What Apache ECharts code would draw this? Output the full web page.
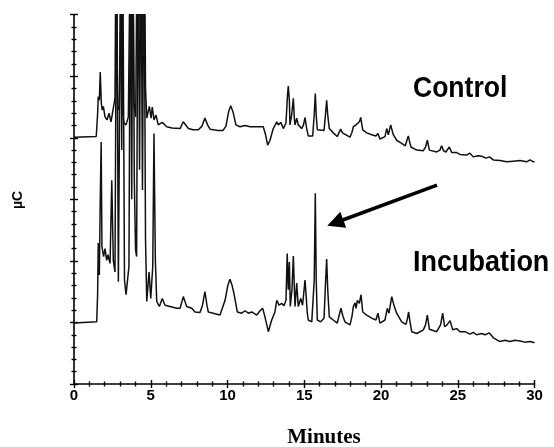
<!DOCTYPE html>
<html><head><meta charset="utf-8">
<script src="https://cdn.jsdelivr.net/npm/echarts@6/dist/echarts.min.js"></script>
<style>html,body{margin:0;padding:0;background:#fff}#c{width:554px;height:447px}</style>
</head><body><div id="c"></div>
<script>
// [minutes, signal]
const controlTrace = [[0,4.01],[1.45,4.02],[1.54,4.40],[1.58,4.67],[1.65,4.61],[1.71,5.07],[1.78,4.56],[1.84,4.45],[1.91,4.51],[2.02,4.34],[2.15,4.29],[2.28,4.40],[2.41,4.26],[2.54,4.45],[2.67,4.64],[2.74,7.5],[2.84,4.50],[2.95,4.45],[3.09,7.5],[3.17,4.40],[3.25,4.24],[3.39,4.21],[3.54,4.34],[3.68,7.5],[3.75,5.20],[3.81,7.5],[3.91,4.56],[4.02,4.34],[4.12,7.5],[4.20,5.30],[4.28,7.5],[4.35,5.60],[4.42,7.5],[4.50,5.40],[4.58,7.5],[4.66,4.80],[4.74,4.32],[4.91,4.51],[5.02,4.32],[5.10,4.50],[5.21,4.29],[5.34,4.37],[5.49,4.21],[5.75,4.25],[6.04,4.18],[6.38,4.16],[6.91,4.15],[7.12,4.26],[7.45,4.15],[7.75,4.13],[8.10,4.13],[8.34,4.19],[8.53,4.32],[8.70,4.21],[8.86,4.14],[9.38,4.12],[9.71,4.12],[9.90,4.19],[10.07,4.42],[10.21,4.52],[10.36,4.42],[10.55,4.21],[10.81,4.18],[11.14,4.20],[11.47,4.18],[11.79,4.18],[12.12,4.18],[12.33,4.18],[12.48,4.05],[12.62,3.88],[12.77,3.96],[12.98,4.15],[13.21,4.26],[13.31,4.21],[13.47,4.25],[13.64,4.15],[13.81,4.24],[13.91,4.70],[13.96,4.84],[14.03,4.61],[14.07,4.21],[14.18,4.37],[14.29,4.64],[14.36,4.29],[14.40,4.21],[14.51,4.32],[14.61,4.21],[14.83,4.15],[14.95,4.21],[15.05,4.33],[15.15,4.16],[15.26,4.03],[15.55,4.03],[15.65,4.37],[15.72,4.72],[15.78,4.37],[15.85,4.13],[16.29,4.12],[16.38,4.37],[16.46,4.61],[16.53,4.37],[16.63,4.15],[16.89,4.08],[17.15,4.02],[17.26,4.08],[17.37,4.14],[17.49,4.08],[17.59,4.05],[17.98,4.01],[18.11,4.09],[18.20,4.18],[18.37,4.21],[18.46,4.18],[18.59,4.26],[18.68,4.33],[18.75,4.22],[18.81,4.13],[19.07,4.08],[19.39,4.05],[19.67,4.03],[19.80,4.07],[19.93,3.98],[20.26,4.02],[20.37,4.15],[20.48,4.05],[20.63,4.21],[20.80,4.05],[21.02,3.96],[21.35,3.91],[21.58,3.87],[21.69,3.96],[21.78,4.03],[21.87,3.93],[21.95,3.85],[22.33,3.80],[22.76,3.79],[22.90,3.85],[23.02,3.96],[23.15,3.80],[23.63,3.77],[23.84,3.80],[23.95,3.87],[24.07,3.79],[24.23,3.77],[24.45,3.85],[24.61,3.76],[24.93,3.76],[25.15,3.73],[25.58,3.72],[25.80,3.75],[26.01,3.69],[26.32,3.71],[26.56,3.70],[26.84,3.67],[27.06,3.69],[27.32,3.64],[27.75,3.63],[28.19,3.61],[28.62,3.62],[29.06,3.63],[29.49,3.61],[29.71,3.64],[29.92,3.61],[30,3.61]];

const incubationTrace = [[0,0.99],[1.48,1.01],[1.54,1.47],[1.58,2.29],[1.65,1.77],[1.71,2.99],[1.77,3.93],[1.82,2.23],[1.93,2.07],[2.02,2.20],[2.13,2.01],[2.21,2.10],[2.35,1.96],[2.46,3.31],[2.56,2.01],[2.67,1.82],[2.78,7.5],[2.89,1.66],[3.06,7.5],[3.11,3.80],[3.17,7.5],[3.29,1.69],[3.39,1.45],[3.58,1.91],[3.68,7.5],[3.76,3.00],[3.84,7.5],[3.93,3.31],[4.01,2.18],[4.08,2.07],[4.17,7.5],[4.27,3.48],[4.36,7.5],[4.46,3.15],[4.56,7.5],[4.66,2.34],[4.74,1.34],[4.89,1.82],[5.00,1.39],[5.13,1.91],[5.21,4.07],[5.30,2.01],[5.39,1.34],[5.56,1.26],[5.75,1.39],[5.93,1.28],[6.25,1.26],[6.69,1.23],[6.91,1.23],[7.12,1.42],[7.34,1.26],[7.67,1.23],[7.88,1.17],[8.21,1.16],[8.37,1.28],[8.53,1.50],[8.66,1.28],[8.75,1.17],[9.07,1.15],[9.51,1.12],[9.84,1.36],[10.03,1.61],[10.16,1.70],[10.29,1.61],[10.42,1.47],[10.64,1.17],[10.93,1.15],[11.14,1.19],[11.36,1.15],[11.58,1.17],[11.90,1.12],[12.12,1.19],[12.29,1.23],[12.44,1.09],[12.66,0.85],[12.88,1.04],[13.09,1.17],[13.21,1.36],[13.36,1.28],[13.53,1.31],[13.68,1.27],[13.81,1.36],[13.89,2.12],[13.96,1.53],[14.03,1.98],[14.09,1.26],[14.20,1.53],[14.29,2.08],[14.36,1.53],[14.40,1.26],[14.51,1.64],[14.61,1.26],[14.77,1.39],[14.89,1.28],[15.05,1.69],[15.20,1.15],[15.26,1.04],[15.49,1.01],[15.65,1.69],[15.72,3.10],[15.78,1.69],[15.85,1.04],[16.07,1.01],[16.29,1.07],[16.38,1.61],[16.46,2.03],[16.53,1.53],[16.63,1.09],[16.89,1.04],[17.15,0.99],[17.26,1.10],[17.39,1.23],[17.52,1.10],[17.65,1.01],[17.98,0.96],[18.11,1.10],[18.20,1.26],[18.31,1.32],[18.37,1.23],[18.46,1.36],[18.59,1.31],[18.70,1.45],[18.81,1.17],[19.07,1.12],[19.39,1.07],[19.67,1.04],[19.80,1.15],[19.93,0.99],[20.26,1.04],[20.41,1.23],[20.52,1.15],[20.70,1.42],[20.85,1.27],[21.02,1.15],[21.35,1.01],[21.63,0.97],[21.73,1.07],[21.80,1.17],[21.89,1.01],[22.00,0.85],[22.33,0.82],[22.76,0.88],[22.90,0.96],[23.02,1.12],[23.15,0.89],[23.63,0.85],[23.88,0.96],[24.02,1.15],[24.14,0.93],[24.30,0.96],[24.50,1.03],[24.67,0.88],[24.93,0.90],[25.15,0.85],[25.47,0.85],[25.80,0.81],[26.01,0.84],[26.23,0.80],[26.56,0.82],[26.78,0.80],[27.06,0.83],[27.32,0.75],[27.75,0.69],[28.08,0.71],[28.40,0.69],[28.73,0.71],[29.06,0.70],[29.38,0.68],[29.71,0.69],[30,0.67]];

const arrowFrom = [23.65, 3.23];
const arrowTo = [17.02, 2.62];
const xRange = [0, 30, 5];
const yRange = [0, 6, 1];

const chart = echarts.init(document.getElementById('c'), null, {renderer: 'canvas'});
const black = '#000';
const tickStyle = {color: black, width: 1.4};
function xAxisDef(inside) {
  return {
    type: 'value', min: xRange[0], max: xRange[1], interval: xRange[2], position: 'bottom',
    axisLine: {show: !inside, onZero: false, lineStyle: {color: black, width: 1.6}},
    axisTick: {show: true, inside: inside, length: 4, lineStyle: tickStyle},
    minorTick: {show: true, splitNumber: 5, length: 2.5, lineStyle: tickStyle},
    axisLabel: {show: !inside, color: black, fontSize: 15, fontWeight: 'bold', fontFamily: 'Liberation Sans', margin: 4},
    splitLine: {show: false}, minorSplitLine: {show: false}
  };
}
function yAxisDef(inside) {
  return {
    type: 'value', min: yRange[0], max: yRange[1], interval: yRange[2], position: 'left',
    axisLine: {show: !inside, onZero: false, lineStyle: {color: black, width: 1.6}},
    axisTick: {show: true, inside: inside, length: 4, lineStyle: tickStyle},
    minorTick: {show: true, splitNumber: 5, length: 2.5, lineStyle: tickStyle},
    axisLabel: {show: false},
    splitLine: {show: false}, minorSplitLine: {show: false}
  };
}
const lbl = {fontWeight: 'bold', fontFamily: 'Liberation Sans', fill: black};
chart.setOption({
  animation: false,
  backgroundColor: '#fff',
  grid: {left: 74, right: 19.5, top: 14.7, bottom: 63, containLabel: false, outerBoundsMode: 'none'},
  xAxis: [xAxisDef(false), xAxisDef(true)],
  yAxis: [yAxisDef(false), yAxisDef(true)],
  series: [
    {type: 'line', name: 'Control', data: controlTrace, symbol: 'none', showSymbol: false,
     lineStyle: {color: '#111', width: 1.5}, clip: true, xAxisIndex: 0, yAxisIndex: 0},
    {type: 'line', name: 'Incubation', data: incubationTrace, symbol: 'none', showSymbol: false,
     lineStyle: {color: '#111', width: 1.5}, clip: true, xAxisIndex: 0, yAxisIndex: 0,
     markLine: {silent: true, animation: false, symbol: ['none', 'triangle'], symbolSize: [17, 17],
       label: {show: false}, emphasis: {disabled: true},
       lineStyle: {color: black, width: 3.5, type: 'solid'},
       data: [[{coord: arrowFrom}, {coord: arrowTo}]]}}
  ],
  graphic: [
    {type: 'text', x: 413, y: 89, scaleX: 0.915, style: Object.assign({text: 'Control', fontSize: 29, align: 'left', verticalAlign: 'middle'}, lbl)},
    {type: 'text', x: 413, y: 262.5, scaleX: 0.93, style: Object.assign({text: 'Incubation', fontSize: 29, align: 'left', verticalAlign: 'middle'}, lbl)},
    {type: 'text', x: 324, y: 438, style: {text: 'Minutes', fontSize: 21, fontWeight: 'bold', fontFamily: 'Liberation Serif', fill: black, align: 'center', verticalAlign: 'middle'}},
    {type: 'text', x: 18, y: 200, rotation: Math.PI / 2, style: Object.assign({text: 'µC', fontSize: 14, align: 'center', verticalAlign: 'middle'}, lbl)}
  ]
});
</script>
</body></html>
